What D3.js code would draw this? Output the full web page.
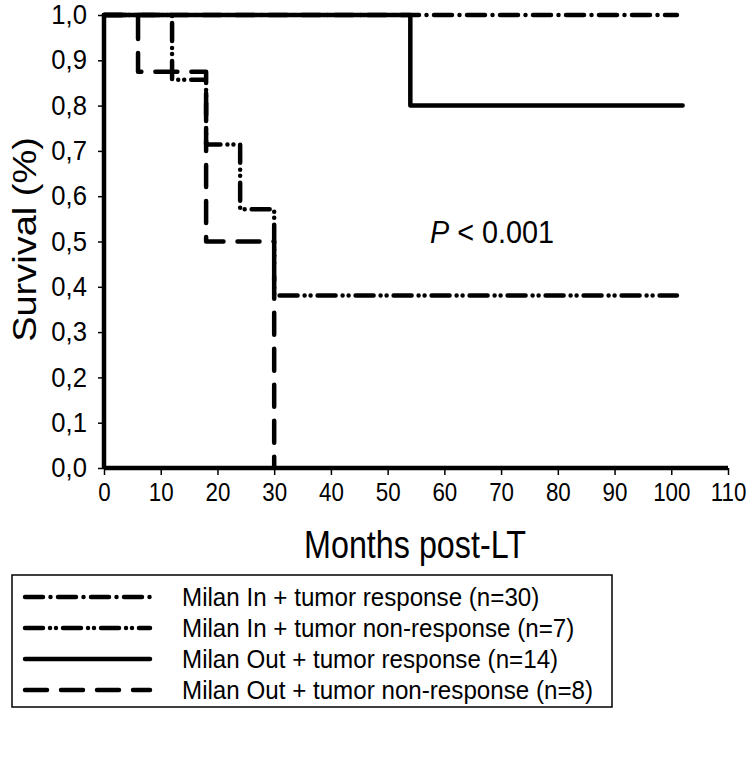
<!DOCTYPE html>
<html>
<head>
<meta charset="utf-8">
<script src="https://cdn.jsdelivr.net/npm/d3@7"></script>
<style>
  html, body { margin: 0; padding: 0; background: #fff; }
  svg { display: block; }
  text { fill: #000; }
</style>
</head>
<body>
<svg id="chart" width="753" height="760"></svg>
<script>
// ---- data ----
const xTicks = [0, 10, 20, 30, 40, 50, 60, 70, 80, 90, 100, 110];
const yTicks = [0, 0.1, 0.2, 0.3, 0.4, 0.5, 0.6, 0.7, 0.8, 0.9, 1.0];
const seriesLabels = [
  "Milan In + tumor response (n=30)",
  "Milan In + tumor non-response (n=7)",
  "Milan Out + tumor response (n=14)",
  "Milan Out + tumor non-response (n=8)"
];
const inRespMonths = [0, 101];
const inRespSurv = [1.0, 1.0];
const inNonRespMonths = [0, 12, 18, 24, 30, 101];
const inNonRespSurv = [1.0, 0.857, 0.714, 0.571, 0.381, 0.381];
const outRespMonths = [0, 54, 102];
const outRespSurv = [1.0, 0.8, 0.8];
const outNonRespMonths = [0, 6, 18, 30];
const outNonRespSurv = [1.0, 0.875, 0.5, 0.0];
const pText = "< 0.001";

// ---- styles ----
const dashStyles = ["18,7.5,0,7.5", "18,7,0,6,0,7", null, "22,14"];
const font = "'Liberation Sans',Arial,Helvetica,sans-serif";

const svg = d3.select("#chart");
const x = d3.scaleLinear().domain([0, 110]).range([104, 728]);
const y = d3.scaleLinear().domain([0, 1]).range([468, 15]);

const series = [
  inRespMonths.map((m, i) => [m, inRespSurv[i]]),
  inNonRespMonths.map((m, i) => [m, inNonRespSurv[i]]),
  outRespMonths.map((m, i) => [m, outRespSurv[i]]),
  outNonRespMonths.map((m, i) => [m, outNonRespSurv[i]])
];

const line = d3.line().x(d => x(d[0])).y(d => y(d[1])).curve(d3.curveStepAfter);

// curves
series.forEach((s, i) => {
  svg.append("path")
    .attr("d", line(s))
    .attr("fill", "none")
    .attr("stroke", "#000")
    .attr("stroke-width", 4.5)
    .attr("stroke-linecap", "round")
    .attr("stroke-linejoin", "round")
    .attr("stroke-dasharray", dashStyles[i]);
});

// axes
const xAxis = d3.axisBottom(x).tickValues(xTicks).tickSize(7).tickFormat(d3.format("d"));
const gx = svg.append("g").attr("transform", `translate(0,${y(0)})`).call(xAxis);
gx.select(".domain").attr("stroke-width", 4.5).attr("d", `M${x(0)},0H${x(110)}`);
gx.selectAll(".tick line").attr("stroke-width", 1.5);
gx.selectAll(".tick text").attr("font-family", font).attr("font-size", 26)
  .attr("dy", "0.9em").attr("transform", "scale(0.86,1)");

const yAxis = d3.axisLeft(y).tickValues(yTicks).tickSize(6)
  .tickFormat(d => d3.format(".1f")(d).replace(".", ","));
const gy = svg.append("g").attr("transform", `translate(${x(0)},0)`).call(yAxis);
gy.select(".domain").attr("stroke-width", 4.5).attr("d", `M0,${y(1)}V${y(0)}`);
gy.selectAll(".tick line").attr("stroke-width", 1.5);
gy.selectAll(".tick text").attr("font-family", font).attr("font-size", 27)
  .attr("x", 0).attr("transform", "translate(-17,0) scale(0.95,1)");

// axis titles
svg.append("text")
  .attr("transform", `translate(36,${(y(0) + y(1)) / 2 - 2}) rotate(-90) scale(1,0.86)`)
  .attr("text-anchor", "middle")
  .attr("font-family", font).attr("font-size", 38)
  .text("Survival (%)");

svg.append("text")
  .attr("transform", "translate(415,558) scale(0.85,1)")
  .attr("text-anchor", "middle")
  .attr("font-family", font).attr("font-size", 38)
  .text("Months post-LT");

// p value
const pt = svg.append("text").attr("transform", "translate(430,243) scale(0.9,1)")
  .attr("font-family", font).attr("font-size", 32);
pt.append("tspan").attr("font-style", "italic").text("P");
pt.append("tspan").text(" " + pText);

// legend
const lg = svg.append("g");
lg.append("rect").attr("x", 12).attr("y", 575).attr("width", 600).attr("height", 132)
  .attr("fill", "none").attr("stroke", "#000").attr("stroke-width", 1.5);
seriesLabels.forEach((lab, i) => {
  const yy = 597 + i * 31;
  lg.append("line").attr("x1", 25).attr("x2", 150).attr("y1", yy).attr("y2", yy)
    .attr("stroke", "#000").attr("stroke-width", 4.5).attr("stroke-linecap", "round")
    .attr("stroke-dasharray", dashStyles[i]);
  lg.append("text").attr("transform", `translate(182,${yy}) scale(0.93,1)`).attr("dy", "0.36em")
    .attr("font-family", font).attr("font-size", 26).text(lab);
});
</script>
</body>
</html>
